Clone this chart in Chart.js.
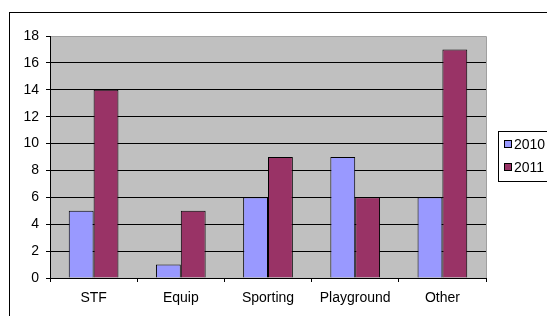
<!DOCTYPE html>
<html>
<head>
<meta charset="utf-8">
<script src="https://cdn.jsdelivr.net/npm/chart.js@4"></script>
<style>
  html, body { margin: 0; padding: 0; background: #fff; overflow: hidden; width: 547px; height: 316px; }
  #wrap { width: 600px; height: 340px; }
</style>
</head>
<body>
<div id="wrap"><canvas id="chart" width="600" height="340"></canvas></div>
<script>
const categories = ['STF', 'Equip', 'Sporting', 'Playground', 'Other'];
const values2010 = [5, 1, 6, 9, 6];
const values2011 = [14, 5, 9, 6, 17];
const seriesNames = ['2010', '2011'];
const seriesColors = ['#9999FF', '#993366'];

const FONT = 'Liberation Sans, Arial, sans-serif';

// fond gris de la zone de tracé + cadre extérieur
const backdrop = {
    id: 'backdrop',
    beforeDraw(chart) {
        const { ctx, chartArea: a } = chart;
        ctx.save();
        ctx.fillStyle = '#fff';
        ctx.fillRect(0, 0, chart.width, chart.height);
        ctx.strokeStyle = '#000';
        ctx.lineWidth = 1;
        ctx.strokeRect(9.5, 12.5, 575, 320);
        ctx.fillStyle = '#C0C0C0';
        ctx.fillRect(a.left, a.top, a.right - a.left, a.bottom - a.top);
        ctx.strokeStyle = '#A0A0A0';
        ctx.beginPath();
        ctx.moveTo(a.left, a.top + 0.5);
        ctx.lineTo(a.right + 0.5, a.top + 0.5);
        ctx.lineTo(a.right + 0.5, a.bottom);
        ctx.stroke();
        ctx.restore();
    }
};

// légende dessinée à la main, à droite
const sideLegend = {
    id: 'sideLegend',
    afterDraw(chart) {
        const ctx = chart.ctx;
        ctx.save();
        ctx.fillStyle = '#fff';
        ctx.fillRect(498, 131, 80, 50);
        ctx.strokeStyle = '#000';
        ctx.lineWidth = 1;
        ctx.strokeRect(498.5, 131.5, 80, 50);
        ctx.font = '14px ' + FONT;
        ctx.textBaseline = 'middle';
        chart.data.datasets.forEach((ds, i) => {
            const y = 144 + i * 23;
            ctx.fillStyle = ds.backgroundColor;
            ctx.fillRect(504, y - 3, 7, 7);
            ctx.strokeStyle = '#000';
            ctx.strokeRect(504.5, y - 3.5, 7, 7);
            ctx.fillStyle = '#000';
            ctx.fillText(ds.label, 514, y + 1);
        });
        ctx.restore();
    }
};

new Chart(document.getElementById('chart'), {
    type: 'bar',
    data: {
        labels: categories,
        datasets: [
            { label: seriesNames[0], data: values2010, backgroundColor: seriesColors[0], borderColor: '#000', borderWidth: 1 },
            { label: seriesNames[1], data: values2011, backgroundColor: seriesColors[1], borderColor: '#000', borderWidth: 1 }
        ]
    },
    options: {
        responsive: false,
        animation: false,
        devicePixelRatio: 1,
        layout: { padding: { left: 0, top: 36, right: 114, bottom: 32 } },
        datasets: { bar: { barPercentage: 1, categoryPercentage: 0.57 } },
        plugins: { legend: { display: false }, tooltip: { enabled: false } },
        scales: {
            x: {
                afterFit: s => { s.height = 30; },
                grid: { offset: true, drawOnChartArea: false, drawTicks: true, tickLength: 4, color: '#000' },
                border: { color: '#000' },
                ticks: { color: '#000', font: { family: FONT, size: 14 }, padding: 8 }
            },
            y: {
                min: 0, max: 18,
                afterFit: s => { s.width = 50; },
                grid: {
                    color: c => c.tick && c.tick.value === 18 ? 'rgba(0,0,0,0)' : '#000',
                    tickColor: '#000',
                    tickLength: 4
                },
                border: { color: '#000' },
                ticks: { stepSize: 2, color: '#000', font: { family: FONT, size: 14 }, padding: 7 }
            }
        }
    },
    plugins: [backdrop, sideLegend]
});
</script>
</body>
</html>
